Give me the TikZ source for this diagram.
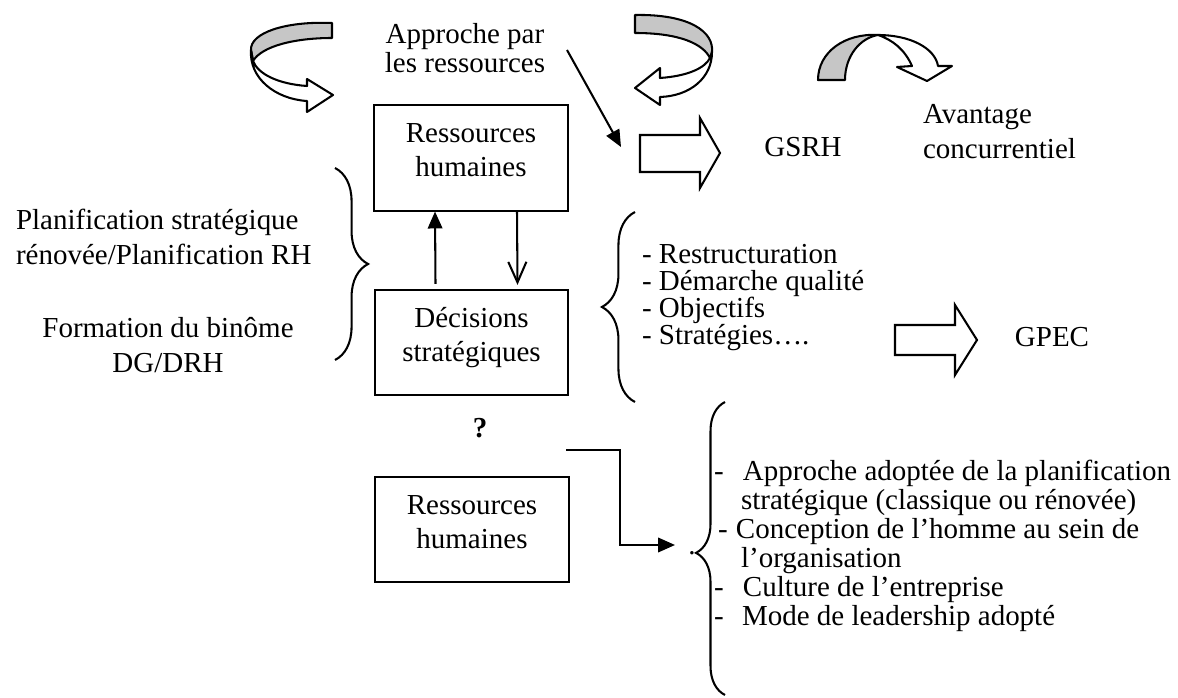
\documentclass[tikz,border=0pt]{standalone}
\usepackage{fontspec}
\setmainfont{Liberation Serif}
\usetikzlibrary{arrows.meta, calc, decorations.pathreplacing}

\begin{document}
\begin{tikzpicture}[
        x=0.414pt, y=-0.414pt,
        line width=0.85pt,
        box/.style={draw, minimum width=80pt, minimum height=43.5pt, inner sep=0pt, align=center, font=\fontsize{12}{14}\selectfont, execute at end node={\rule[-6.5pt]{0pt}{6.5pt}}},
        txt/.style={inner sep=0pt, font=\fontsize{12}{14.5}\selectfont},
        solidtip/.style={-{Triangle[length=7pt, width=6pt]}},
        opentip/.style={-{Straight Barb[length=8.5pt, width=7.5pt]}},
        brace/.style={decorate, decoration={brace, amplitude=13.7pt}},
        ribbonback/.style={draw, fill=gray!45, line join=round},
        ribbonfront/.style={draw, fill=white, line join=round}
    ]
        \useasboundingbox (0,0) rectangle (1178,698);

        % --- NODES ---
        \node[txt, anchor=north, align=center, font=\fontsize{12}{12}\selectfont] (approche) at (465,22) {Approche par\\les ressources};
        \node[box] (rh) at (471,158) {Ressources\\humaines};
        \node[box] (decisions) at (471.5,342.5) {Décisions\\stratégiques};
        \node[box] (rhbis) at (472,529.5) {Ressources\\humaines};
        \node[txt, anchor=base] (gsrh) at (803,157) {GSRH};
        \node[txt, anchor=north west, align=left] (avantage) at (922,103) {Avantage\\concurrentiel};
        \node[txt, anchor=north west, align=left] (planif) at (15,208) {Planification stratégique\\rénovée/Planification RH};
        \node[txt, anchor=north, align=center, font=\fontsize{12}{14.8}\selectfont] (formation) at (168,316) {Formation du binôme\\DG/DRH};
        \node[txt, anchor=north west, align=left, font=\fontsize{12}{11.2}\selectfont] (leviers) at (641,243) {- Restructuration\\- Démarche qualité\\- Objectifs\\- Stratégies….};
        \node[txt, anchor=base] (gpec) at (1052,347) {GPEC};
        \node[txt, anchor=base, font=\fontsize{12}{14}\selectfont\bfseries] (question) at (480,438) {?};
        \node[txt, anchor=north west, align=left, font=\fontsize{12}{12}\selectfont] (facteurs) at (713,459) {\makebox[12pt][l]{-}Approche adoptée de la planification\\
            \hspace*{11.2pt}stratégique (classique ou rénovée)\\
            \makebox[9.1pt][l]{\hspace*{1.7pt}-}Conception de l’homme au sein de\\
            \hspace*{11.2pt}l’organisation\\
            \makebox[12pt][l]{-}Culture de l’entreprise\\
            \makebox[11.6pt][l]{-}Mode de leadership adopté};
        \node[txt] (dot) at (692,553) {.};

        \coordinate (diagstart) at (567,50);
        \coordinate (diagend) at (621,147);
        \coordinate (elbowstart) at (566,450);
        \coordinate (elbowend) at (675,545);

        % --- CURVED ARROWS ---
        % left loop
        \filldraw[ribbonback] (332,23) .. controls (285,21) and (250,33) .. (251,50) -- (253,61) .. controls (262,46) and (295,38) .. (332,38) -- cycle;
        \filldraw[ribbonfront] (251,50) .. controls (249,78) and (275,99) .. (307,101) -- (307,112) -- (333,95) -- (307,79) -- (307,86) .. controls (278,84) and (258,74) .. (253,61) -- cycle;
        % right loop
        \filldraw[ribbonback] (635,15) .. controls (690,14) and (714,32) .. (712,52) -- (710,58) .. controls (703,44) and (680,33) .. (635,33) -- cycle;
        \filldraw[ribbonfront] (712,52) .. controls (712,78) and (690,96) .. (660,97) -- (660,105) -- (635,88) -- (660,68) -- (660,78) .. controls (688,76) and (705,68) .. (710,58) -- cycle;
        % arc towards advantage
        \filldraw[ribbonback] (818,80) -- (845,80) .. controls (845,56) and (860,38) .. (878,35) .. controls (845,33) and (818,52) .. (818,80) -- cycle;
        \filldraw[ribbonfront] (878,35) .. controls (910,35) and (935,48) .. (938,66) -- (952,66) -- (927,81) -- (897,67) -- (912,66) .. controls (905,50) and (893,40) .. (878,35) -- cycle;

        % --- BLOCK ARROWS ---
        \draw[line join=miter] (640,135) -- (700,135) -- (700,118) -- (720,153) -- (700,188) -- (700,172) -- (640,172) -- cycle;
        \draw[line join=miter] (895,325) -- (955,325) -- (955,305) -- (977,340) -- (955,375) -- (955,355) -- (895,355) -- cycle;

        % --- ARROWS ---
        \draw[solidtip] (diagstart) -- (diagend);
        \draw[solidtip] ($(decisions.north)+(-36,-5)$) -- ($(rh.south)+(-36,0)$);
        \draw[opentip] ($(rh.south)+(46,0)$) -- ($(decisions.north)+(46,-4)$);
        \draw[solidtip] (elbowstart) -- (620,450) |- (elbowend);

        % --- BRACES ---
        \draw[brace] (335,168) -- (335,360);
        \draw[brace] (635,402) -- (635,212);
        \draw[decorate, decoration={brace, amplitude=12pt, aspect=0.485}] (725,695) -- (725,402);
    \end{tikzpicture}
\end{document}
